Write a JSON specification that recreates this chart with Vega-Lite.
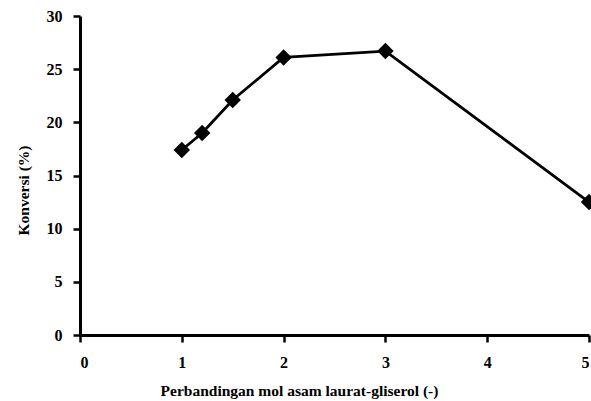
{
  "$schema": "https://vega.github.io/schema/vega-lite/v6.json",
  "autosize": {"type": "none"},
  "width": 509,
  "height": 319,
  "padding": {"left": 80, "top": 16, "right": 2, "bottom": 66},
  "background": "white",
  "config": {
    "view": {"stroke": null},
    "font": "Liberation Serif",
    "axis": {
      "grid": false,
      "domainColor": "black",
      "domainWidth": 3,
      "tickColor": "black",
      "tickWidth": 2.5,
      "tickSize": 7,
      "labelFont": "Liberation Serif",
      "labelFontWeight": 700,
      "labelFontSize": 16,
      "labelColor": "black",
      "titleFont": "Liberation Serif",
      "titleFontWeight": 700,
      "titleFontSize": 15.5,
      "titleColor": "black"
    }
  },
  "data": {
    "values": [
      {"rasio": 1, "konversi": 17.4},
      {"rasio": 1.2, "konversi": 19.0},
      {"rasio": 1.5, "konversi": 22.1},
      {"rasio": 2, "konversi": 26.1},
      {"rasio": 3, "konversi": 26.7},
      {"rasio": 5, "konversi": 12.5}
    ]
  },
  "encoding": {
    "x": {
      "field": "rasio", "type": "quantitative",
      "scale": {"domain": [0, 5], "nice": false},
      "axis": {"values": [0, 1, 2, 3, 4, 5], "title": "Perbandingan mol asam laurat-gliserol (-)", "labelPadding": 12, "titleX": 219, "titleY": 55, "titleAlign": "center", "titleBaseline": "middle"}
    },
    "y": {
      "field": "konversi", "type": "quantitative",
      "scale": {"domain": [0, 30], "nice": false},
      "axis": {"values": [0, 5, 10, 15, 20, 25, 30], "title": "Konversi (%)", "labelPadding": 11, "titleX": -57, "titleY": 174, "titleAlign": "center", "titleBaseline": "middle", "titleAngle": -90}
    }
  },
  "layer": [
    {"mark": {"type": "line", "color": "black", "strokeWidth": 2.8}},
    {"mark": {"type": "point", "shape": "diamond", "filled": true, "color": "black", "opacity": 1, "size": 270}}
  ]
}
